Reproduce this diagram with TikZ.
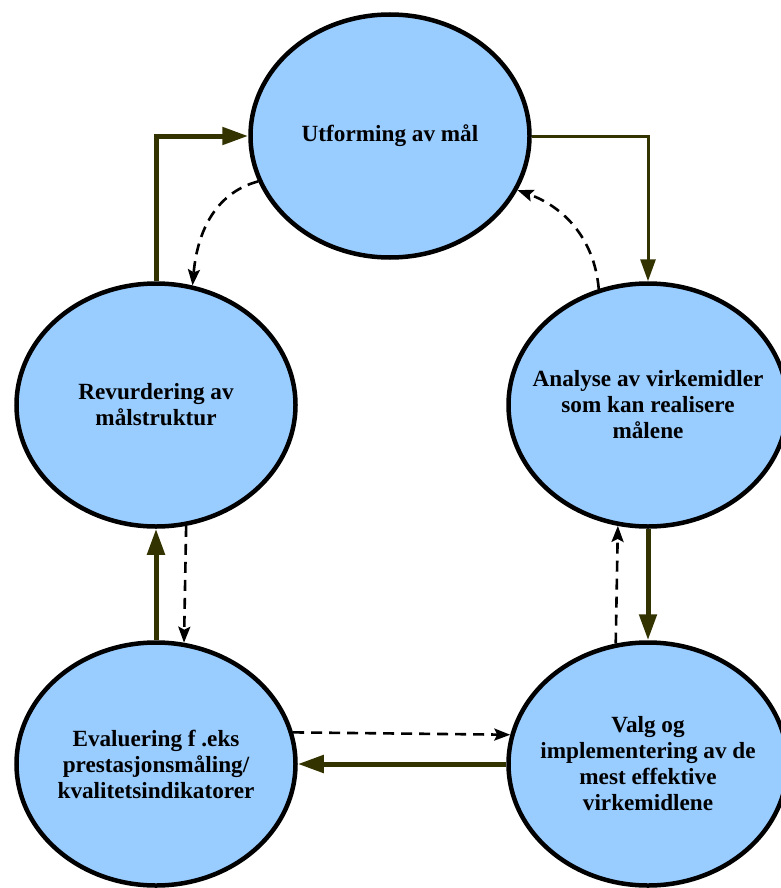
\documentclass[tikz,border=0pt]{standalone}
\usepackage{fontspec}
\setmainfont{Liberation Serif}
\usetikzlibrary{arrows.meta,shapes.geometric}
\definecolor{ovalblue}{HTML}{99CCFF}
\definecolor{flowolive}{HTML}{333300}

\begin{document}
\begin{tikzpicture}[x=1pt,y=-1pt,
  stage/.style={ellipse,draw=black,line width=4.5pt,fill=ovalblue,
    minimum width=279pt,minimum height=243pt,inner sep=0pt},
  stagetext/.style={align=center,inner sep=0pt,
    font=\bfseries\fontsize{23.2}{26}\selectfont},
  flow/.style={draw=flowolive,line width=5pt,-{Triangle[length=26pt,width=17pt]}},
  feedback/.style={draw=black,line width=2.6pt,dash pattern=on 11pt off 7pt,
    -{Stealth[length=16pt,width=12pt,inset=3pt]}}]
\useasboundingbox (0,0) rectangle (781,888);
% the five stages
\node[stage,label={[stagetext]center:Utforming av mål}] (maal) at (390,136) {};
\node[stage,label={[stagetext]center:Revurdering av\\målstruktur}] (revurd) at (156,405) {};
\node[stage,label={[stagetext]center:Analyse av virkemidler\\som kan realisere\\målene}] (analyse) at (648,405) {};
\node[stage,label={[stagetext]center:Evaluering f .eks\\prestasjonsmåling/\\kvalitetsindikatorer}] (evaluer) at (156,764) {};
\node[stage,label={[stagetext]center:Valg og\\implementering av de\\mest effektive\\virkemidlene}] (valg) at (648,764) {};
% main cycle
\draw[flow] (revurd.north) |- (maal.west);
\draw[flow,line width=3pt,-{Triangle[length=22pt,width=15pt]}] (maal.east) -| (analyse.north);
\draw[flow] (analyse.south) -- (valg.north);
\draw[flow] (valg.west) -- (evaluer.east);
\draw[flow] (evaluer.north) -- (revurd.south);
% feedback
\draw[feedback] (maal.199) to[out=195,in=85] (revurd.73);
\draw[feedback] (analyse.113) to[out=95,in=-20] (maal.337);
\draw[feedback] (valg.105) -- (analyse.256);
\draw[feedback] (revurd.284) -- (evaluer.77);
\draw[feedback] (evaluer.13) -- (valg.168);
\end{tikzpicture}
\end{document}
